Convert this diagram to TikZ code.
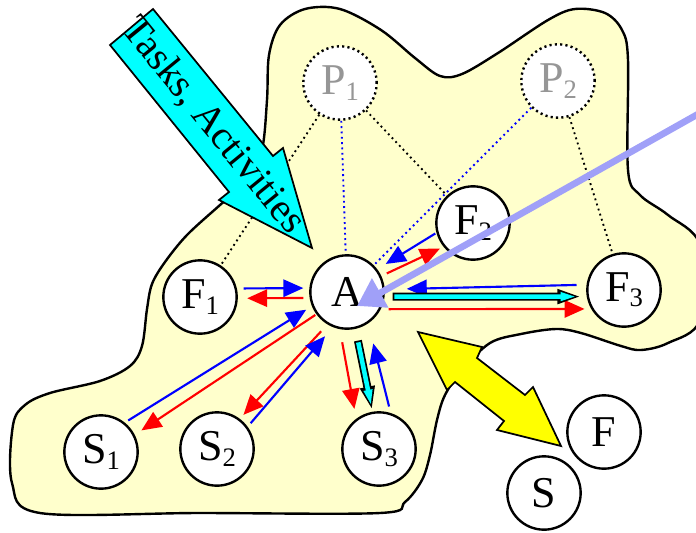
\documentclass[tikz,border=0pt]{standalone}
\usepackage{fontspec}
\setmainfont{Liberation Serif}
\usetikzlibrary{arrows.meta}
\definecolor{blobfill}{RGB}{255,255,204}
\definecolor{lavender}{RGB}{160,160,248}
\definecolor{pgray}{RGB}{150,150,150}
\definecolor{aqua}{RGB}{0,255,255}
\definecolor{lemon}{RGB}{255,255,0}
\definecolor{msgred}{RGB}{255,0,0}
\definecolor{msgblue}{RGB}{0,0,255}
\newcommand{\sub}[1]{\raisebox{-.12em}{\fontsize{20}{20}\selectfont #1}}

\begin{document}
\begin{tikzpicture}[x=0.75pt,y=-0.75pt]
            \tikzstyle{every node}+=[inner sep=0pt]
            \tikzstyle{state}=[circle,draw=black,fill=white,line width=1.8pt,minimum size=55pt,font=\fontsize{33}{36}\selectfont]
            \tikzstyle{proc}=[state,dash pattern=on 1.6pt off 2.4pt,text=pgray]
            \tikzstyle{link}=[line width=1.4pt,dash pattern=on 1.4pt off 2.6pt]
            \tikzstyle{msg}=[line width=1.6pt,-{Triangle[length=15pt,width=13pt]}]
            \tikzstyle{cyanout}=[black,line width=6pt,-{Triangle[length=18pt,width=10pt]}]
            \tikzstyle{cyanin}=[aqua,line width=3.4pt,-{Triangle[length=14pt,width=5.5pt]}]
            \useasboundingbox (0,0) rectangle (696,532);
            % background region
            \draw [black,line width=1.8pt,fill=blobfill] plot [smooth cycle,tension=0.55] coordinates {
              (12,483) (13,425) (25,405) (50,393) (100,381) (130,366) (142,346) (147,309)
              (152,284) (165,262) (187,235) (220,205) (248,180) (262,150) (267,100) (269,55)
              (280,25) (305,9) (340,9) (381,30) (415,58) (440,76) (462,74) (498,53) (548,20)
              (575,9) (605,13) (622,30) (628,60) (628,170) (640,195) (668,215) (700,245)
              (700,320) (668,343) (641,350) (621,346) (581,333) (556,329) (521,334) (490,343)
              (462,370) (445,395) (437,420) (430,455) (422,480) (405,502) (380,513) (200,513) (40,513)};
            % nodes
            \node [proc] (P1) at (340,83) {P\sub{1}};
            \node [proc] (P2) at (558,81) {P\sub{2}};
            \node [state] (A) at (347,292) {A};
            \node [state] (F1) at (200,297) {F\sub{1}};
            \node [state] (F2) at (473,223) {F\sub{2}};
            \node [state] (F3) at (624,290) {F\sub{3}};
            \node [state] (S1) at (101,452) {S\sub{1}};
            \node [state] (S2) at (217,449) {S\sub{2}};
            \node [state] (S3) at (379,449) {S\sub{3}};
            \node [state] (F) at (604,432) {F};
            \node [state] (S) at (544,493) {S};
            % dotted links
            \draw [link,black] (P1) -- (F1);
            \draw [link,black] (P1) -- (F2);
            \draw [link,black] (P2) -- (F3);
            \draw [link,msgblue] (P1) -- (A);
            \draw [link,msgblue] (P2) -- (A);
            % messages
            \draw [msg,msgblue,shorten <=5pt,shorten >=4.5pt] (F1.13) -- (A.174);
            \draw [msg,msgred,shorten <=4.7pt,shorten >=7pt] (A.189) -- (F1.-2);
            \draw [msg,msgblue,shorten <=3pt,shorten >=5pt] (S1.51) -- (A.202);
            \draw [msg,msgred,shorten <=1pt,shorten >=6pt] (A.216) -- (S1.27);
            \draw [msg,msgred,shorten <=7pt,shorten >=4pt] (A.239) -- (S2.53);
            \draw [msg,msgblue,shorten <=3.5pt,shorten >=9pt] (S2.36) -- (A.248);
            \draw [msg,msgred,shorten <=10pt,shorten >=7.5pt] (A.259) -- (S3.127);
            \draw [msg,msgblue,shorten <=5pt,shorten >=15.5pt] (S3.72) -- (A.304);
            \draw [msg,msgblue,shorten <=1pt,shorten >=7.5pt] (F2.195) -- (A.37);
            \draw [msg,msgred,shorten <=4.5pt,shorten >=3pt] (A.25) -- (F2.219);
            \draw [msg,msgblue,shorten <=7.5pt,shorten >=16.5pt] (F3.172) -- (A.4);
            \draw [msg,msgred,shorten <=6pt,shorten >=5pt] (A.-27) -- (F3.210);
            \draw [cyanout,shorten <=9pt,shorten >=1pt] (A.283) -- (S3.100);
            \draw [cyanin,shorten <=10.3pt,shorten >=2.6pt] (A.283) -- (S3.100);
            \draw [cyanout,shorten <=6pt,shorten >=4pt] (A.-7) -- (F3.190.5);
            \draw [cyanin,shorten <=7.3pt,shorten >=5.6pt] (A.-7) -- (F3.190.5);
            % tasks arrow
            \draw [black,line width=1.3pt,fill=aqua] (153,9) -- (273,156) -- (283,148) -- (312,248)
              -- (219,200) -- (229,192) -- (110,45) -- cycle;
            \node [rotate=-50.7,font=\fontsize{30}{31}\selectfont] (tasks) at (213,126) {Tasks, Activities};
            % exchange arrow
            \draw [black,line width=1.3pt,fill=lemon] (418,332) -- (482,347) -- (477,358) -- (525,395)
              -- (533,387) -- (561,446) -- (497,430) -- (504,421) -- (455,382) -- (447,390) -- cycle;
            % pointer
            \coordinate (lavTail) at (700,113);
            \coordinate (lavTip) at (357,306);
            \draw [lavender,line width=5pt,-{Triangle[length=20pt,width=24pt]}] (lavTail) -- (lavTip);
\end{tikzpicture}
\end{document}
